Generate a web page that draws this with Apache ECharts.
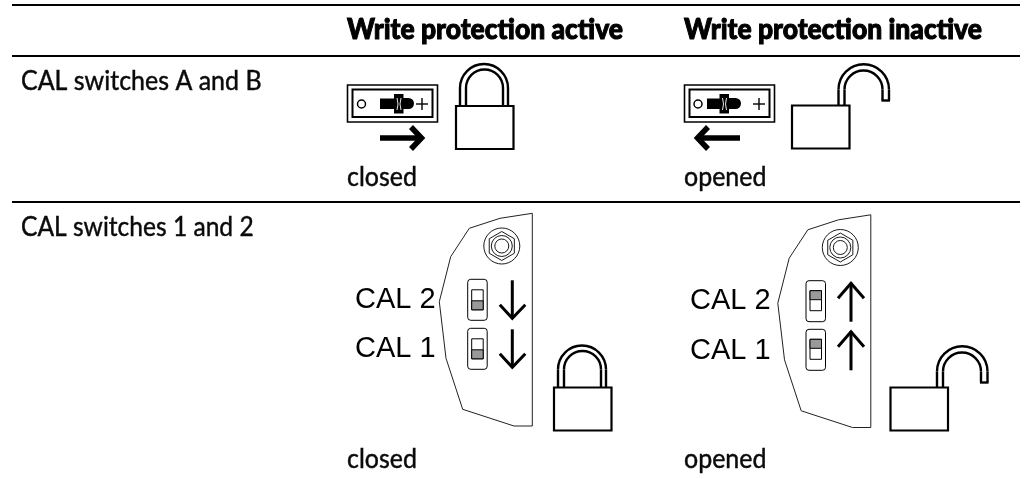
<!DOCTYPE html>
<html><head><meta charset="utf-8">
<style>html,body{margin:0;padding:0;background:#fff}#c{width:1030px;height:479px}</style>
<script src="https://cdn.jsdelivr.net/npm/echarts@6/dist/echarts.min.js"></script>
</head><body><div id="c"></div>
<script>
// ---- content ----
const columnHeads = ['Write protection active', 'Write protection inactive'];
const rowLabels = ['CAL switches A and B', 'CAL switches 1 and 2'];
const stateLabels = ['closed', 'opened'];
const calLabels = ['CAL 2', 'CAL 1'];
const lockOpen = [false, true];          // per column
// ---- layout (table frame) ----
const W = 1030, H = 479;
const ruleY = [5, 56, 202], ruleX = [12, 1020];
const colX = [347, 684], rowLabelX = 21;
const headBase = 38, rowBase = [89, 235], stateBase = [185, 467];

const BLACK = '#000', TXT = '#0a0a0a';
const FONT = 'Lato';

function renderItem(params, api) {
  const kids = [];
  const P = (x, y) => api.coord([x, y]);
  const line = (x1, y1, x2, y2, w, c) => { const a = P(x1, y1), b = P(x2, y2);
    kids.push({type:'line', shape:{x1:a[0],y1:a[1],x2:b[0],y2:b[1]}, style:{stroke:c||BLACK,lineWidth:w||1,lineCap:'butt'}}); };
  const poly = (pts, o) => { kids.push({type:o.closed===false?'polyline':'polygon', shape:{points:pts.map(p=>P(p[0],p[1]))}, style:Object.assign({fill:'none',stroke:BLACK,lineWidth:1,lineJoin:'miter'},o.style)}); };
  const rect = (x0,y0,x1,y1,o) => { const a=P(x0,y0); kids.push({type:'rect',shape:{x:a[0],y:a[1],width:x1-x0,height:y1-y0,r:o.r||0},style:{fill:o.fill||'#fff',stroke:o.stroke===undefined?BLACK:o.stroke,lineWidth:o.w===undefined?1:o.w}}); };
  const circ = (x,y,r,o) => { const a=P(x,y); kids.push({type:'circle',shape:{cx:a[0],cy:a[1],r:r},style:{fill:(o&&o.fill)||'none',stroke:BLACK,lineWidth:(o&&o.w)||1}}); };
  const text = (s,x,y,o) => { const a=P(x,y-(o.up||0)); kids.push({type:'text',x:a[0],y:a[1],scaleX:o.sx||1,style:{text:s,x:0,y:0,font:o.font,fill:o.fill||TXT,stroke:o.sw?(o.fill||TXT):null,lineWidth:o.sw||0}}); };
  const arc = (cx,cy,r,w) => { const a=P(cx,cy); kids.push({type:'arc',shape:{cx:a[0],cy:a[1],r:r,startAngle:Math.PI,endAngle:2*Math.PI,clockwise:true},style:{fill:'none',stroke:BLACK,lineWidth:w}}); };

  const kind = api.value(0), col = api.value(1), row = api.value(2);

  if (kind === 0) {
    ruleY.forEach(y => line(ruleX[0], y, ruleX[1], y, 2));
    const head = {font:'900 28px '+FONT, fill:'#000', sx:.945, up:22, sw:1};
    const body = {font:'27px '+FONT, sx:.925, sw:.45, up:21.5};
    const sxRow = [.925, .91];
    columnHeads.forEach((s,i) => text(s, colX[i], headBase, head));
    rowLabels.forEach((s,i) => text(s, rowLabelX, rowBase[i], Object.assign({}, body, {sx:sxRow[i]})));
    [0,1].forEach(r => stateLabels.forEach((s,i) => text(s, colX[i], stateBase[r], body)));
    return {type:'group',children:kids};
  }

  const drawLock = (bx0, by0, open) => {
    const bw = 57.5, bh = 43, sw = 2.4;
    if (!open) {
      const lx = bx0 + 4, rx = bx0 + 52, ix = bx0 + 10, jx = bx0 + 47;
      const cy = by0 - 18;
      arc((lx+rx)/2, cy, (rx-lx)/2, sw);
      arc((ix+jx)/2, cy, (jx-ix)/2, sw);
      [lx,rx,ix,jx].forEach(x => line(x, cy, x, by0, sw));
    } else {
      const lx = bx0 + 46.5, rx = bx0 + 97, ix = bx0 + 52.5, jx = bx0 + 90.5;
      const cy = by0 - 16;
      arc((lx+rx)/2, cy, (rx-lx)/2, sw);
      arc((ix+jx)/2, cy, (jx-ix)/2, sw);
      [lx,ix].forEach(x => line(x, cy, x, by0, sw));
      [rx,jx].forEach(x => line(x, cy, x, by0-5, sw));
      line(jx-1, by0-5, rx+1, by0-5, sw);
    }
    rect(bx0, by0, bx0+bw, by0+bh, {w:2.2, fill:'none'});
  };

  if (kind === 1) {           // slide switch row
    const open = lockOpen[col];
    const x0 = open ? 684.5 : 347.5;
    rect(x0, 85, x0+90, 122, {w:1.6});
    rect(x0+5, 89.5, x0+85, 117, {w:2});
    circ(x0+ (open?13.5:14), 104, 4, {w:1.5});
    const kx = open ? 707 : 380;
    const len = 34;
    const mid = open ? 17 : 18.5;
    rect(kx, 98.5, kx+mid-2, 109, {fill:BLACK,stroke:null,w:0});
    kids.push({type:'rect',shape:{x:kx+mid,y:98,width:len-mid,height:11,r:[0,5.5,5.5,0]},style:{fill:BLACK}});
    rect(kx+mid-4.5, 94, kx+mid+5, 113.5, {fill:BLACK,stroke:null,w:0});
    poly([[kx+mid-1.5,98],[kx+mid-.5,104],[kx+mid-1.5,110]],{closed:false,style:{stroke:'#fff',lineWidth:.9}});
    poly([[kx+mid+2.5,98],[kx+mid+1.5,104],[kx+mid+2.5,110]],{closed:false,style:{stroke:'#fff',lineWidth:.9}});
    const px = open ? 759 : 422;
    line(px-6,104,px+6,104,1.4); line(px,98,px,110,1.4);
    if (!open) {
      line(380,138,421,138,5.5);
      poly([[411,127],[421.5,138],[411,149]],{closed:false,style:{lineWidth:5.5}});
    } else {
      line(740,138,698,138,5.5);
      poly([[708,127],[697.5,138],[708,149]],{closed:false,style:{lineWidth:5.5}});
    }
    drawLock(open ? 792 : 456, open ? 105.5 : 106, open);
  }

  if (kind === 2) {           // CAL switch row
    const open = lockOpen[col];
    const dx = open ? 338.5 : 0, dy = open ? 1.5 : 0;
    poly([[532.3,213.3],[500,218.3],[469.3,228.3],[450.7,256.7],[439.3,301.7],[446,358.3],[462.7,409.3],[514,426],[532.3,426]].map(p=>[p[0]+dx,p[1]+dy]),
         {style:{lineWidth:1,stroke:'#222'}});
    const nx = 502.3+dx-0.5, ny = 246+dy;
    circ(nx,ny,18,{w:.9});
    const hex=[]; for(let k=0;k<6;k++){const a=Math.PI/2+k*Math.PI/3; hex.push([nx+14.5*Math.cos(a),ny+14.5*Math.sin(a)]);}
    poly(hex,{style:{lineWidth:.9}});
    circ(nx,ny,10.5,{w:.9}); circ(nx,ny,7,{w:.9});
    calLabels.forEach((s,i)=>text(s, open?690:355, open?[310.7,360][i]:[309,358][i], {font:'29px "Liberation Sans"',fill:'#000',up:24}));
    const sx = open ? 806 : 467.7;
    [[open?280.7:279.3],[open?329.3:328.3]].forEach(a=>{
      const sy=a[0];
      rect(sx,sy,sx+19.5,sy+41,{r:3,w:1});
      const kx=sx+4, ky=sy+(open?10:10.5);
      rect(kx,ky,kx+11.5,ky+20,{w:1});
      if(open) rect(kx,ky,kx+11.5,ky+9,{fill:'#999',w:1});
      else rect(kx,ky+11,kx+11.5,ky+20,{fill:'#999',w:1});
      const ax=open?851:512.3;
      if(open){
        const t=sy+1, b=sy+41;
        line(ax,t+1,ax,b,3);
        poly([[ax-13,t+16.5],[ax,t+1.5],[ax+13,t+16.5]],{closed:false,style:{lineWidth:3}});
      } else {
        const t=sy+1, b=sy+40;
        line(ax,t,ax,b-1,3);
        poly([[ax-12.5,b-14.5],[ax,b-1],[ax+13,b-14.5]],{closed:false,style:{lineWidth:3}});
      }
    });
    drawLock(open ? 890.5 : 554, 387.5, open);
  }
  return {type:'group',children:kids};
}

const cells = [[0,0,0]];
lockOpen.forEach((o,c)=>{ cells.push([1,c,0]); cells.push([2,c,1]); });

const chart = echarts.init(document.getElementById('c'), null, {renderer:'canvas'});
chart.setOption({
  animation:false,
  backgroundColor:'#fff',
  grid:{left:0,right:0,top:0,bottom:0},
  xAxis:{type:'value',min:0,max:W,show:false},
  yAxis:{type:'value',min:0,max:H,inverse:true,show:false},
  series:[{type:'custom',silent:true,clip:false,coordinateSystem:'cartesian2d',renderItem,data:cells,encode:{x:1,y:2}}]
});
</script></body></html>
